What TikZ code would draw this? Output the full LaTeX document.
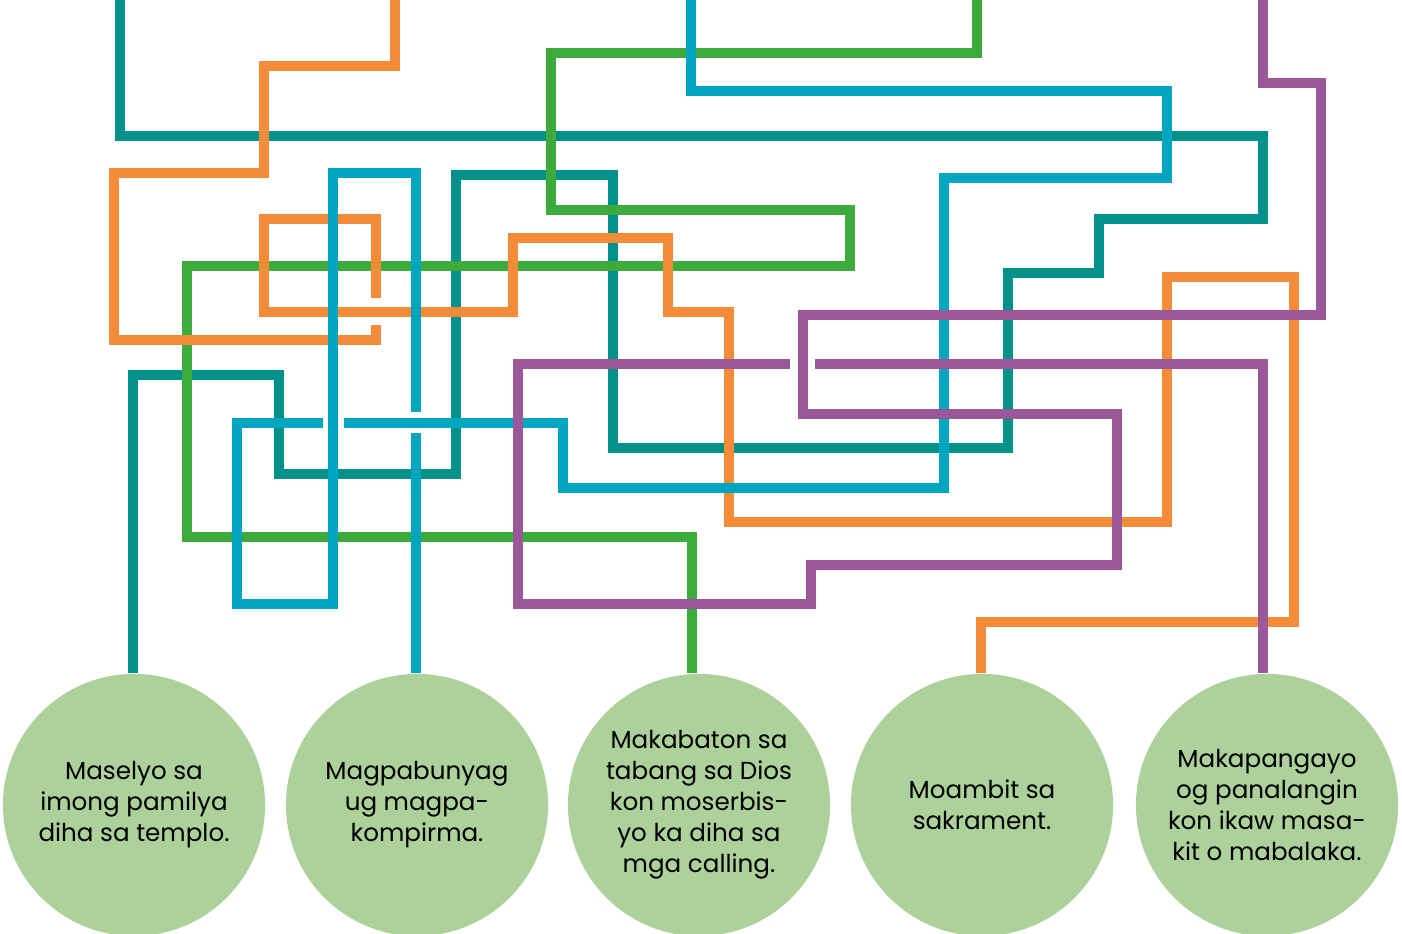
\documentclass[tikz,border=0pt]{standalone}
\usepackage{fontspec}
\setmainfont{Poppins}
\usetikzlibrary{calc}

\definecolor{lineteal}{HTML}{00928A}
\definecolor{lineblue}{HTML}{00A6C0}
\definecolor{lineorange}{HTML}{F38B38}
\definecolor{linegreen}{HTML}{3DAB3C}
\definecolor{linepurple}{HTML}{9A5799}
\definecolor{circlefill}{HTML}{ADD19A}

\tikzset{
  track/.style={line width=0.1cm, line join=miter},
  goal/.style={circle, fill=circlefill, minimum size=2.62cm, inner sep=0pt,
    align=center, font=\fontsize{7}{8.8}\selectfont}
}

\begin{document}
\begin{tikzpicture}[x=0.01cm, y=-0.01cm]
  \useasboundingbox (0,0) rectangle (1402,934);

  % the five goals
  \node[goal] (c1) at ( 134,805) {Maselyo sa\\imong pamilya\\diha sa templo.};
  \node[goal] (c2) at ( 417,805) {Magpabunyag\\ug magpa-\\kompirma.};
  \node[goal] (c3) at ( 699,805) {Makabaton sa\\tabang sa Dios\\kon moserbis-\\yo ka diha sa\\mga calling.};
  \node[goal] (c4) at ( 982,805) {Moambit sa\\sakrament.};
  \node[goal] (c5) at (1267,805) {Makapangayo\\og panalangin\\kon ikaw masa-\\kit o mabalaka.};

  % where the tracks come in
  \coordinate (s1) at ( 120,0);
  \coordinate (s2) at ( 691,0);
  \coordinate (s3) at ( 977,0);
  \coordinate (s4) at ( 395,0);
  \coordinate (s5) at (1263,0);

  % teal
  \draw[track, lineteal] (s1) -- (120,136) -- (1263,136) -- (1263,219)
    -- (1099,219) -- (1099,273) -- (1008,273) -- (1008,448) -- (613,448)
    -- (613,175) -- (456,175) -- (456,474) -- (279,474) -- (279,375)
    -- (133,375) -- (133,0 |- c1.north);

  % green
  \draw[track, linegreen] (s3) -- (977,53) -- (551,53) -- (551,210)
    -- (850,210) -- (850,266) -- (187,266) -- (187,537) -- (692,537)
    -- (692,0 |- c3.north);

  % orange
  \draw[track, lineorange] (s4) -- (395,66) -- (264,66) -- (264,173)
    -- (114,173) -- (114,340) -- (376,340) -- (376,325)
    (376,298) -- (376,219) -- (264,219) -- (264,312) -- (513,312)
    -- (513,238) -- (668,238) -- (668,312) -- (729,312) -- (729,522)
    -- (1167,522) -- (1167,277) -- (1294,277) -- (1294,622) -- (981,622)
    -- (981,0 |- c4.north);

  % blue
  \draw[track, lineblue] (s2) -- (691,91) -- (1167,91) -- (1167,178)
    -- (944,178) -- (944,488) -- (563,488) -- (563,423) -- (344,423)
    (323,423) -- (237,423) -- (237,604) -- (333,604) -- (333,173)
    -- (416,173) -- (416,412)
    (416,433) -- (416,0 |- c2.north);

  % purple
  \draw[track, linepurple] (s5) -- (1263,83) -- (1321,83) -- (1321,315)
    -- (803,315) -- (803,414) -- (1117,414) -- (1117,565) -- (811,565)
    -- (811,604) -- (518,604) -- (518,364) -- (790,364)
    (815,364) -- (1263,364) -- (1263,0 |- c5.north);
\end{tikzpicture}
\end{document}
